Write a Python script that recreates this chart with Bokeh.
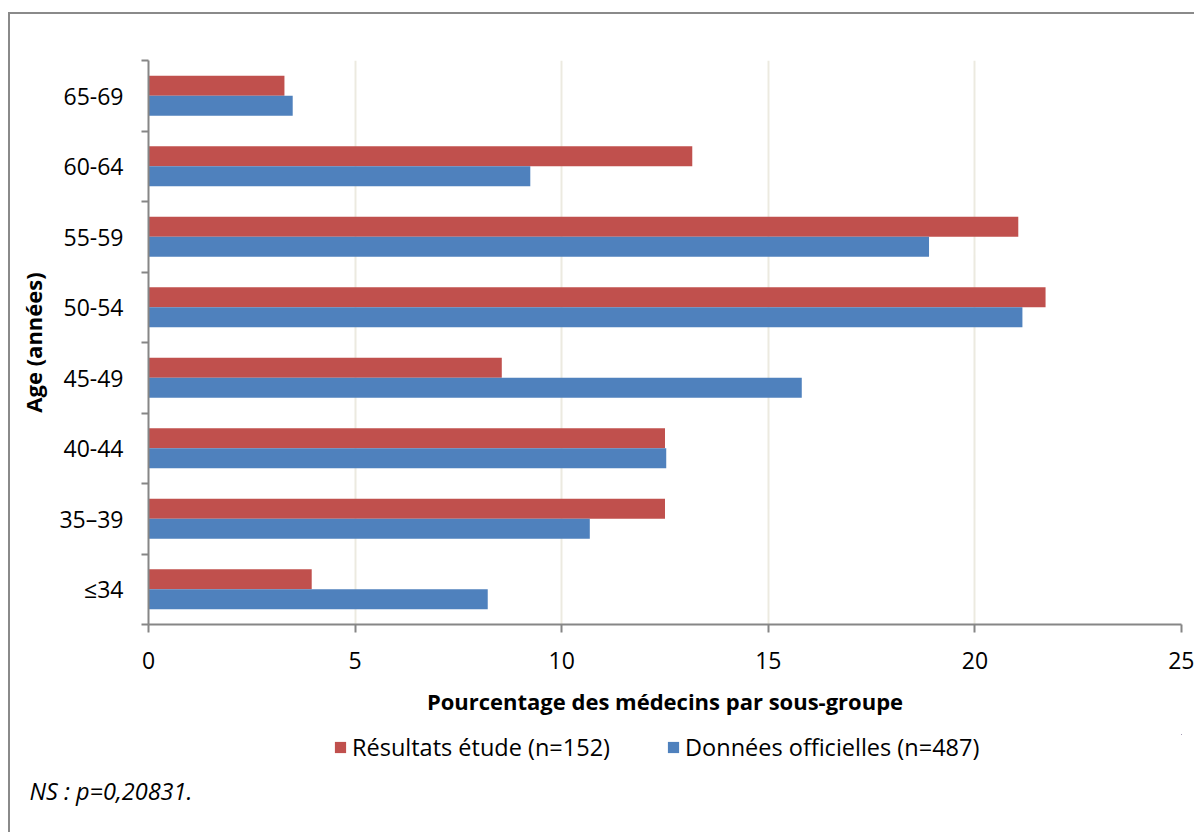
import numpy as np
from bokeh.plotting import figure
from bokeh.layouts import column
from bokeh.models import Range1d, FixedTicker, Legend, LegendItem, Title, ColumnDataSource
from bokeh.transform import dodge
from bokeh.embed import file_html
from bokeh.resources import INLINE

# ---- data ----
categories = ["≤34", "35–39", "40-44", "45-49", "50-54", "55-59", "60-64", "65-69"]
etude = [3.95, 12.50, 12.50, 8.55, 21.71, 21.05, 13.16, 3.29]
officielles = [8.21, 10.68, 12.53, 15.81, 21.15, 18.89, 9.24, 3.49]
series_names = ["Résultats étude (n=152)", "Données officielles (n=487)"]
x_ticks = [0, 5, 10, 15, 20, 25]
x_title = "Pourcentage des médecins par sous-groupe"
y_title = "Age (années)"
note = "NS : p=0,20831."

FONT = "Open Sans"
RED = "#C0504D"
BLUE = "#4F81BD"
AXIS = "#868686"
BORDER = "2px solid #8a8a8a"

centers = [i + 0.5 for i in range(len(categories))]
bounds = list(range(len(categories) + 1))
src = ColumnDataSource(dict(y=centers, etude=etude, off=officielles))

# ---------------- main chart ----------------
p = figure(width=1186, height=722, output_backend="svg", toolbar_location=None,
           x_range=Range1d(0, 25), y_range=Range1d(0, len(categories)),
           min_border_left=138, min_border_right=15, min_border_top=46,
           min_border_bottom=112, margin=(12, 0, 0, 8))
p.styles = {"border-left": BORDER, "border-top": BORDER}
p.outline_line_color = None

p.hbar(y=dodge("y", 0.142), right="etude", left=0, height=0.284,
       fill_color=RED, line_color=None, source=src)
p.hbar(y=dodge("y", -0.142), right="off", left=0, height=0.284,
       fill_color=BLUE, line_color=None, source=src)

# x axis
p.xaxis.ticker = FixedTicker(ticks=x_ticks)
p.xaxis.axis_line_color = AXIS
p.xaxis.axis_line_width = 2
p.xaxis.major_tick_line_color = AXIS
p.xaxis.major_tick_line_width = 2
p.xaxis.major_tick_out = 8
p.xaxis.major_tick_in = 0
p.xaxis.minor_tick_line_color = None
p.xaxis.major_label_text_font = FONT
p.xaxis.major_label_text_font_size = "23px"
p.xaxis.major_label_text_color = "#000000"
p.xaxis.major_label_standoff = 19
p.xaxis.axis_label = x_title
p.xaxis.axis_label_text_font = FONT
p.xaxis.axis_label_text_font_style = "bold"
p.xaxis.axis_label_text_font_size = "22px"
p.xaxis.axis_label_text_color = "#000000"
p.xaxis.axis_label_standoff = 14

# y axis
p.yaxis.ticker = FixedTicker(ticks=centers, minor_ticks=bounds)
p.yaxis.major_label_overrides = {c: lab for c, lab in zip(centers, categories)}
p.yaxis.axis_line_color = AXIS
p.yaxis.axis_line_width = 2
p.yaxis.major_tick_line_color = None
p.yaxis.major_tick_out = 0
p.yaxis.major_tick_in = 0
p.yaxis.minor_tick_line_color = AXIS
p.yaxis.minor_tick_line_width = 2
p.yaxis.minor_tick_out = 7
p.yaxis.minor_tick_in = 0
p.yaxis.major_label_text_font = FONT
p.yaxis.major_label_text_font_size = "23px"
p.yaxis.major_label_text_color = "#000000"
p.yaxis.major_label_standoff = 18
p.yaxis.axis_label = y_title
p.yaxis.axis_label_text_font = FONT
p.yaxis.axis_label_text_font_style = "bold"
p.yaxis.axis_label_text_font_size = "22px"
p.yaxis.axis_label_text_color = "#000000"
p.yaxis.axis_label_standoff = 8

p.ygrid.visible = False
p.xgrid.grid_line_color = "#ECEAE0"
p.xgrid.grid_line_width = 2

# ---------------- legend + note strip ----------------
# the key glyphs reuse the real data with zero height, outside this strip's ranges
p2 = figure(width=1186, height=98, output_backend="svg", toolbar_location=None,
            x_range=Range1d(-200, -100), y_range=Range1d(-20, -10),
            min_border=0, min_border_bottom=60, margin=(0, 0, 0, 8),
            x_axis_type=None, y_axis_type=None)
p2.styles = {"border-left": BORDER}
p2.outline_line_color = None
p2.grid.visible = False
k1 = p2.hbar(y="y", right="etude", left=0, height=0, fill_color=RED,
             line_color=None, source=src)
k2 = p2.hbar(y="y", right="off", left=0, height=0, fill_color=BLUE,
             line_color=None, source=src)

p2.add_layout(Title(text=note, align="left", offset=-119, standoff=0, text_font=FONT,
                    text_font_style="italic", text_font_size="23.5px",
                    text_color="#000000"), "below")

legend = Legend(items=[LegendItem(label=series_names[0], renderers=[k1]),
                       LegendItem(label=series_names[1], renderers=[k2])],
                orientation="horizontal", location=(185, 9),
                border_line_color=None, background_fill_alpha=0,
                padding=0, margin=0, spacing=56, glyph_width=14, glyph_height=14,
                label_standoff=5, label_text_font=FONT, label_text_font_size="23.5px",
                label_text_color="#000000")
p2.add_layout(legend)

layout = column(p, p2, spacing=0)
open("out.html", "w").write(file_html(layout, INLINE))
